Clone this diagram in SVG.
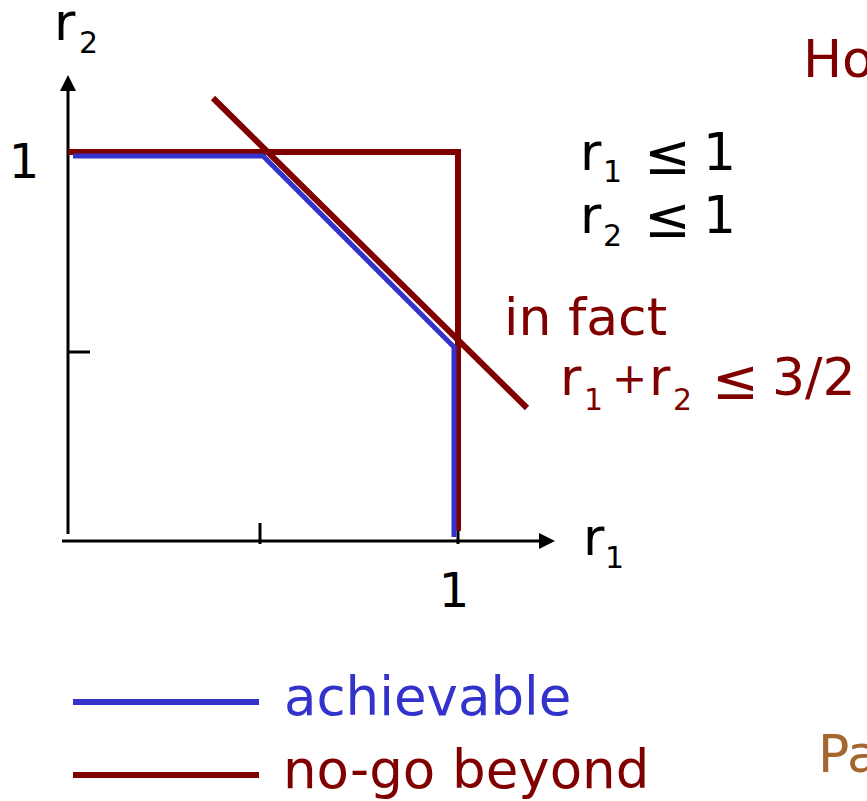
<svg xmlns="http://www.w3.org/2000/svg" width="867" height="801" viewBox="0 0 867 801">
  <style>
    text { font-family: "DejaVu Sans", Verdana, sans-serif; font-size: 52px; }
    .k { fill: #000000; }
    .dr { fill: #800000; }
    .bl { fill: #3333CC; }
    .br { fill: #A5652F; }
    .sub { font-size: 30px; }
    .le { font-size: 56px; }
    .pl { font-size: 42px; }
    .axis { stroke: #000000; stroke-width: 3; fill: none; }
    .ach { stroke: #3333CC; stroke-width: 5; fill: none; stroke-linejoin: miter; }
    .nogo { stroke: #800000; stroke-width: 6; fill: none; stroke-linejoin: miter; }
  </style>

  <g id="axes">
    <line class="axis" x1="68" y1="534" x2="68" y2="86"/>
    <polygon points="68,75 60,91 76,91" fill="#000"/>
    <line class="axis" x1="62" y1="541" x2="543" y2="541"/>
    <polygon points="555,541 539,533 539,549" fill="#000"/>
    <line class="axis" x1="68" y1="352" x2="90" y2="352"/>
    <line class="axis" x1="260" y1="523" x2="260" y2="544"/>
    <line class="axis" x1="458" y1="523" x2="458" y2="544"/>
  </g>

  <g id="nogo-region">
    <polyline class="nogo" points="68,152 458,152 458,531"/>
    <line class="nogo" x1="213" y1="98" x2="527" y2="408"/>
  </g>

  <g id="achievable-region">
    <polyline class="ach" points="73,156 263,156 454,347 454,537"/>
  </g>

  <g id="axis-labels">
    <text class="k" x="54" y="40">r<tspan class="sub" x="79" y="53">2</tspan></text>
    <text class="k" x="24" y="178" text-anchor="middle" style="font-size:48px">1</text>
    <text class="k" x="454" y="607" text-anchor="middle" style="font-size:48px">1</text>
    <text class="k" x="583" y="555">r<tspan class="sub" x="605" y="568">1</tspan></text>
  </g>

  <g id="constraints">
    <text class="k" x="580" y="170">r<tspan class="sub" x="603" y="182">1</tspan><tspan class="le" x="644" y="174">≤</tspan><tspan x="703" y="170">1</tspan></text>
    <text class="k" x="580" y="233">r<tspan class="sub" x="603" y="246">2</tspan><tspan class="le" x="644" y="237">≤</tspan><tspan x="703" y="233">1</tspan></text>
  </g>

  <g id="infact">
    <text class="dr" x="504" y="335">in fact</text>
    <text class="dr" x="560" y="395">r<tspan class="sub" x="584" y="410">1</tspan><tspan class="pl" x="612" y="393">+</tspan><tspan x="649" y="395">r</tspan><tspan class="sub" x="673" y="410">2</tspan><tspan class="le" x="712" y="399">≤</tspan><tspan x="772" y="395">3/2</tspan></text>
  </g>

  <g id="title">
    <text class="dr" x="803" y="77">Ho</text>
  </g>

  <g id="legend">
    <line x1="73" y1="702" x2="259" y2="702" stroke="#3333CC" stroke-width="6"/>
    <text class="bl" x="284" y="715" style="font-size:53px">achievable</text>
    <line x1="73" y1="775" x2="259" y2="775" stroke="#800000" stroke-width="6"/>
    <text class="dr" x="283" y="788" style="font-size:53px">no-go beyond</text>
  </g>

  <g id="footer">
    <text class="br" x="818" y="772">Pa</text>
  </g>
</svg>
